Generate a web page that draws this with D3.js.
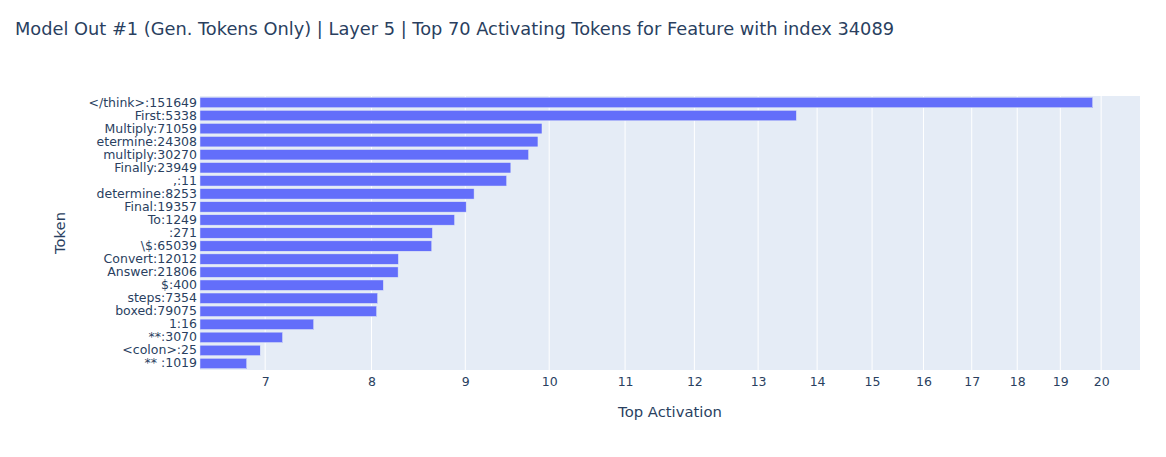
<!DOCTYPE html>
<html>
<head>
<meta charset="utf-8">
<script src="https://cdn.jsdelivr.net/npm/d3@7"></script>
<style>
  html, body { margin: 0; padding: 0; background: #fff; }
  svg { display: block; }
  text { font-family: Verdana, "DejaVu Sans", sans-serif; fill: #2a3f5f; }
</style>
</head>
<body>
<svg id="chart" width="1166" height="457"></svg>
<script>
const titleText = "Model Out #1 (Gen. Tokens Only) | Layer 5 | Top 70 Activating Tokens for Feature with index 34089";
const tokens = [
  "</think>:151649", "First:5338", "Multiply:71059", "etermine:24308", "multiply:30270",
  "Finally:23949", ",:11", "determine:8253", "Final:19357", "To:1249",
  ":271", "\\$:65039", "Convert:12012", "Answer:21806", "$:400",
  "steps:7354", "boxed:79075", "1:16", "**:3070", "<colon>:25", "** :1019"
];
const activations = [
  19.79, 13.64, 9.91, 9.86, 9.745,
  9.53, 9.48, 9.10, 9.01, 8.88,
  8.636, 8.629, 8.275, 8.272, 8.12,
  8.062, 8.052, 7.44, 7.155, 6.957, 6.84
];
const xTicks = [7, 8, 9, 10, 11, 12, 13, 14, 15, 16, 17, 18, 19, 20];
const xDomain = [6.45, 21.0];

const svg = d3.select("#chart");
const m = { left: 200, right: 1140, top: 96, bottom: 370 };

const x = d3.scaleLog().domain(xDomain).range([m.left, m.right]);
const y = d3.scaleBand().domain(tokens).range([m.top, m.bottom]).paddingInner(0.2).paddingOuter(0.1);

// plot background
svg.append("rect")
  .attr("x", m.left).attr("y", m.top)
  .attr("width", m.right - m.left).attr("height", m.bottom - m.top)
  .attr("fill", "#E5ECF6");

// gridlines
svg.append("g").selectAll("line").data(xTicks).join("line")
  .attr("x1", d => x(d)).attr("x2", d => x(d))
  .attr("y1", m.top).attr("y2", m.bottom)
  .attr("stroke", "#fff").attr("stroke-width", 1);

// bars
svg.append("g").selectAll("rect").data(tokens).join("rect")
  .attr("x", m.left)
  .attr("y", d => y(d))
  .attr("width", (d, i) => x(activations[i]) - m.left)
  .attr("height", y.bandwidth())
  .attr("fill", "#636efa")
  .attr("stroke", "#E5ECF6")
  .attr("stroke-width", 0.5);

// x axis
const xAxis = d3.axisBottom(x).tickValues(xTicks).tickFormat(d3.format("d")).tickSize(0).tickPadding(0);
const gx = svg.append("g").attr("transform", `translate(0,${m.bottom})`).call(xAxis);
gx.select(".domain").remove();
gx.selectAll("text")
  .attr("dy", null)
  .attr("y", 16)
  .style("font-family", 'Verdana, "DejaVu Sans", sans-serif')
  .style("font-size", "12.5px")
  .attr("fill", "#2a3f5f");

// y axis
const yAxis = d3.axisLeft(y).tickSize(0).tickPadding(3);
const gy = svg.append("g").attr("transform", `translate(${m.left},0)`).call(yAxis);
gy.select(".domain").remove();
gy.selectAll("text")
  .style("font-family", 'Verdana, "DejaVu Sans", sans-serif')
  .style("font-size", "12.5px")
  .attr("fill", "#2a3f5f");

// title
svg.append("text")
  .attr("x", 15).attr("y", 35)
  .style("font-size", "17.8px")
  .text(titleText);

// axis titles
svg.append("text")
  .attr("x", (m.left + m.right) / 2).attr("y", 417)
  .attr("text-anchor", "middle")
  .style("font-size", "14.8px")
  .text("Top Activation");

svg.append("text")
  .attr("transform", `translate(65,${(m.top + m.bottom) / 2}) rotate(-90)`)
  .attr("text-anchor", "middle")
  .style("font-size", "14.8px")
  .text("Token");
</script>
</body>
</html>
